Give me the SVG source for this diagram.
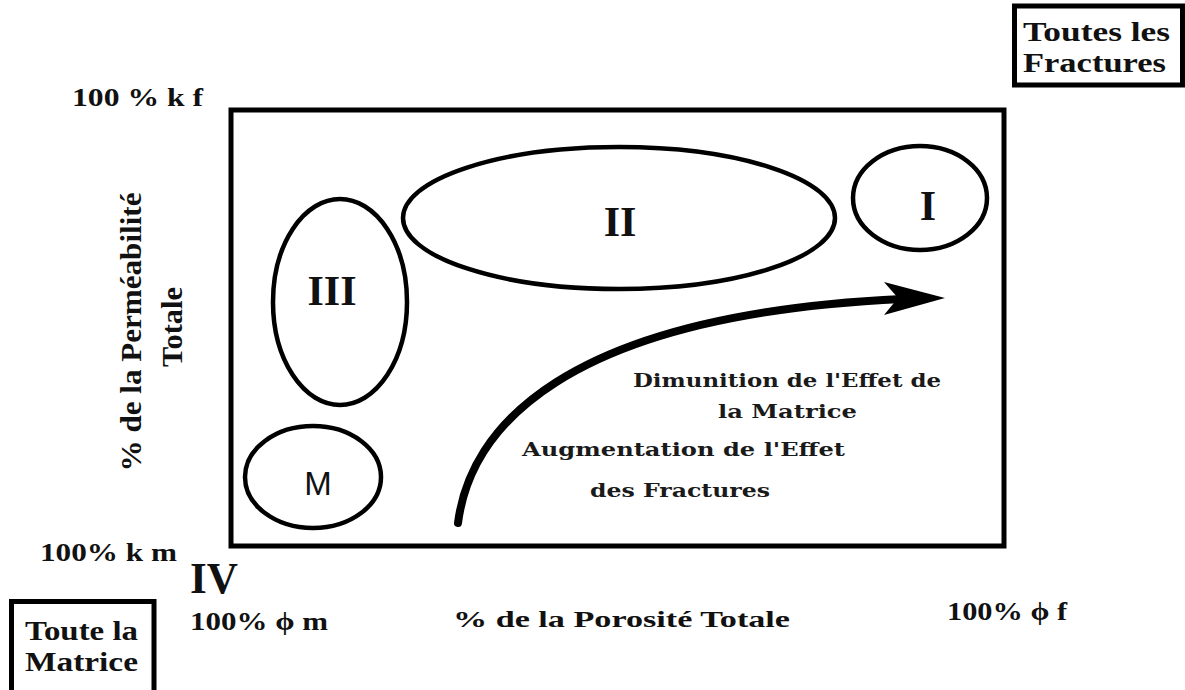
<svg xmlns="http://www.w3.org/2000/svg" width="1185" height="690" viewBox="0 0 1185 690">
<style>
  .lbl { font-family: "Liberation Serif", "Times New Roman", serif; font-weight: bold; fill: #111; }
  .phr { font-family: "DejaVu Serif", "Liberation Serif", serif; font-weight: bold; fill: #1a1a1a; }
  .num { font-family: "Liberation Serif", "Times New Roman", serif; font-weight: bold; fill: #111; text-anchor: middle; }
  .shape { fill: none; stroke: #000; }
  .box { fill: #fff; stroke: #000; stroke-width: 5; }
</style>
<rect width="1185" height="690" fill="#fff"/>

<g id="frame">
  <rect class="shape" x="231" y="110" width="773" height="436" stroke-width="5"/>
</g>

<g id="zone-II">
  <ellipse class="shape" cx="619" cy="218" rx="216" ry="71" stroke-width="4.5"/>
  <text class="num" x="620" y="236" font-size="42">II</text>
</g>
<g id="zone-III">
  <ellipse class="shape" cx="340" cy="302" rx="67" ry="103" stroke-width="4.5"/>
  <text class="num" x="332" y="305" font-size="42">III</text>
</g>
<g id="zone-I">
  <ellipse class="shape" cx="920" cy="198" rx="67" ry="52" stroke-width="4.5"/>
  <text class="num" x="928" y="220" font-size="42">I</text>
</g>
<g id="zone-M">
  <ellipse class="shape" cx="313" cy="477" rx="68" ry="51" stroke-width="4.5"/>
  <text x="318" y="495" font-family="Liberation Sans, Arial, sans-serif" font-size="33" fill="#111" text-anchor="middle">M</text>
</g>

<g id="connectors">
  <path class="shape" d="M458,523 C470,430 560,315 902,299" stroke-width="8" stroke-linecap="round"/>
  <polygon points="945,298 884,282 898,298 884,315" fill="#000"/>
</g>

<g id="label-toutes-fractures">
  <rect class="box" x="1014.5" y="6" width="168" height="79"/>
  <text class="lbl" x="1023" y="41" font-size="28" textLength="147" lengthAdjust="spacingAndGlyphs">Toutes les</text>
  <text class="lbl" x="1023" y="72" font-size="28" textLength="143" lengthAdjust="spacingAndGlyphs">Fractures</text>
</g>

<g id="label-toute-matrice">
  <rect class="box" x="11.5" y="601.5" width="142.5" height="95"/>
  <text class="lbl" x="25" y="640" font-size="28" textLength="113" lengthAdjust="spacingAndGlyphs">Toute la</text>
  <text class="lbl" x="25" y="671" font-size="28" textLength="113" lengthAdjust="spacingAndGlyphs">Matrice</text>
</g>

<g id="axis-labels">
  <text class="lbl" x="72" y="106" font-size="26" textLength="131" lengthAdjust="spacingAndGlyphs">100 % k f</text>
  <text class="lbl" x="40" y="561" font-size="26" textLength="137" lengthAdjust="spacingAndGlyphs">100% k m</text>
  <text class="lbl" x="190" y="593" font-size="44" textLength="48" lengthAdjust="spacingAndGlyphs">IV</text>
  <text class="lbl" x="190" y="630" font-size="26" textLength="138" lengthAdjust="spacingAndGlyphs">100% ϕ m</text>
  <text class="lbl" x="947" y="620" font-size="26" textLength="120" lengthAdjust="spacingAndGlyphs">100% ϕ f</text>
  <text class="lbl" x="453" y="627" font-size="24" textLength="337" lengthAdjust="spacingAndGlyphs">% de la Porosité Totale</text>
  <text class="lbl" transform="translate(141,332) rotate(-90)" x="0" y="0" font-size="29" text-anchor="middle" textLength="279" lengthAdjust="spacingAndGlyphs" fill="#1a1a3a">% de la Perméabilité</text>
  <text class="lbl" transform="translate(182,327) rotate(-90)" x="0" y="0" font-size="29" text-anchor="middle" textLength="80" lengthAdjust="spacingAndGlyphs" fill="#1a1a3a">Totale</text>
</g>

<g id="effect-labels">
  <text class="phr" x="633" y="387" font-size="18" textLength="308" lengthAdjust="spacingAndGlyphs">Dimunition de l'Effet de</text>
  <text class="phr" x="718" y="418" font-size="18" textLength="139" lengthAdjust="spacingAndGlyphs">la Matrice</text>
  <text class="phr" x="522" y="456" font-size="18" textLength="323" lengthAdjust="spacingAndGlyphs">Augmentation de l'Effet</text>
  <text class="phr" x="590" y="497" font-size="18" textLength="180" lengthAdjust="spacingAndGlyphs">des Fractures</text>
</g>
</svg>
